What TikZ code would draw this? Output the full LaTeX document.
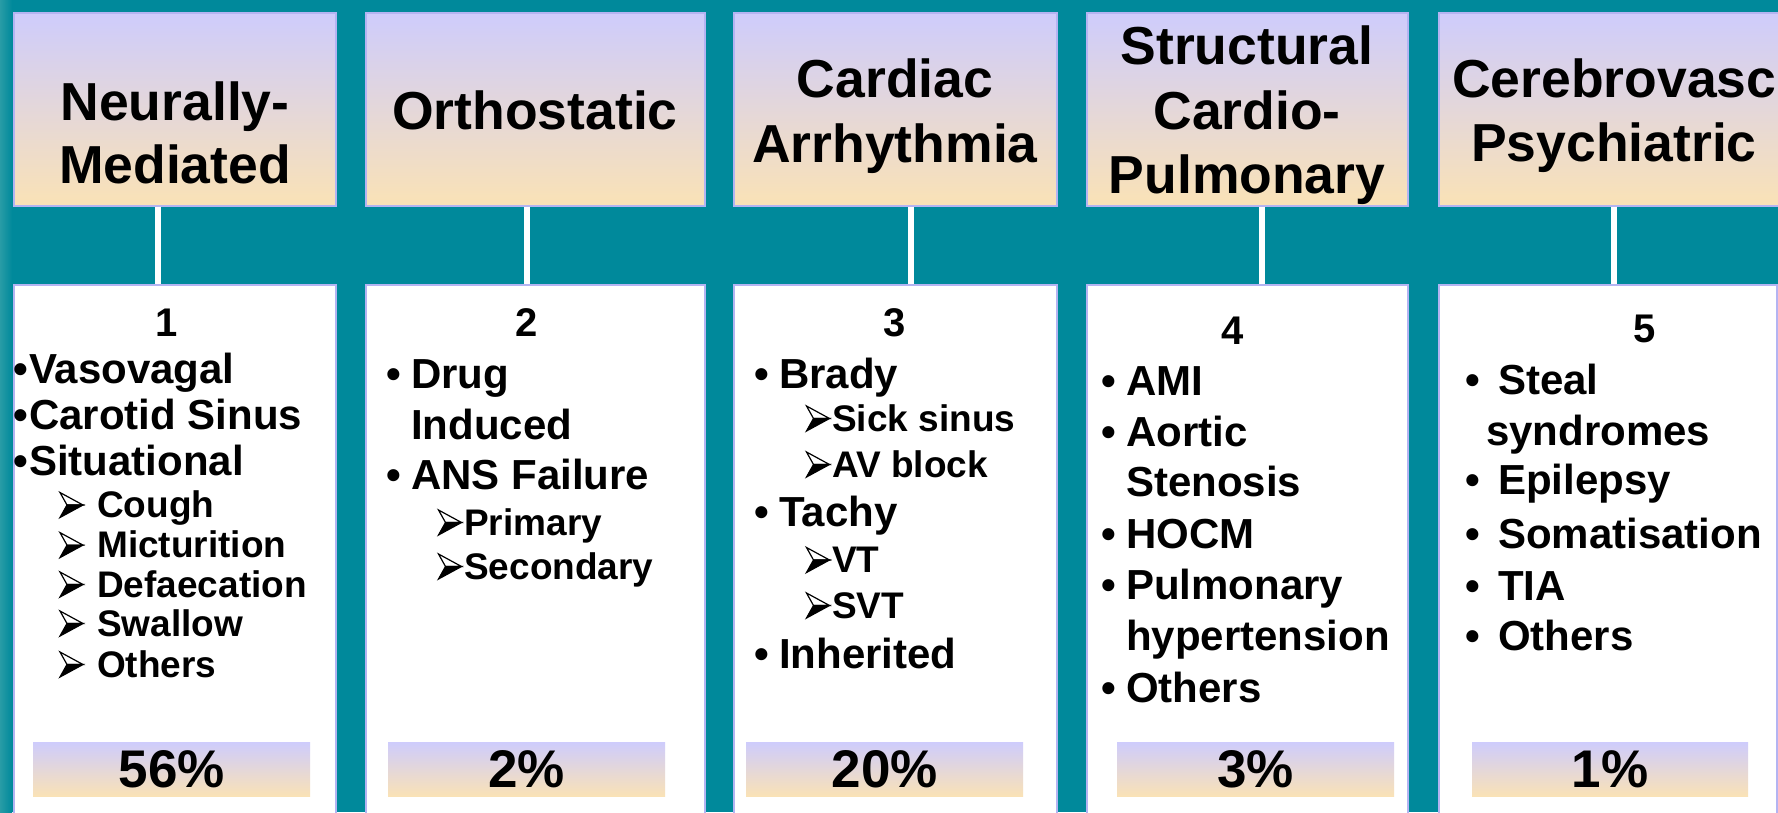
\documentclass[tikz,border=0pt]{standalone}
\usepackage{fontspec}
\setmainfont{Liberation Sans}
\definecolor{teal1}{RGB}{0,137,155}
\definecolor{tealL}{RGB}{40,156,166}
\definecolor{lav}{RGB}{206,204,252}
\definecolor{peach}{RGB}{250,226,182}
\definecolor{bord}{RGB}{180,180,242}
\tikzset{
  hdr/.style={draw=bord, line width=1.5pt, top color=lav, bottom color=peach, anchor=north west, inner sep=0pt},
  content/.style={draw=bord, line width=1.5pt, fill=white, anchor=north west, inner sep=0pt},
  bar/.style={top color=lav, bottom color=peach, anchor=north west, inner sep=0pt, minimum height=54pt, font=\fontsize{53pt}{60pt}\selectfont\bfseries},
  conn/.style={white, line width=6pt},
  hdt/.style={anchor=base, inner sep=0pt, font=\fontsize{53.5pt}{64pt}\selectfont\bfseries},
  num/.style={anchor=base, inner sep=0pt, font=\fontsize{40pt}{44pt}\selectfont\bfseries},
  mtxt/.style={anchor=base west, inner sep=0pt, font=\fontsize{42pt}{46pt}\selectfont\bfseries},
  stxt/.style={anchor=base west, inner sep=0pt, font=\fontsize{37pt}{40pt}\selectfont\bfseries},
  bul/.style={anchor=base, inner sep=0pt, font=\fontsize{42pt}{46pt}\selectfont\bfseries},
  ahead/.pic={
    \filldraw[fill=white, draw=black, line width=1.2pt, line join=miter] (-11.5,-25) -- (11.5,-12.5) -- (-4.5,-12.5) -- cycle;
    \filldraw[fill=black, draw=black, line width=1.2pt, line join=miter] (-4.5,-12.5) -- (11.5,-12.5) -- (-11.5,0) -- cycle;
  },
}
\newcommand{\bitem}[5]{\node[bul] (#1b) at (#2,#4) {•}; \node[mtxt] (#1) at (#3,#4) {#5};}
\newcommand{\aitem}[5]{\pic (#1b) at (#2,#4) {ahead}; \node[stxt] (#1) at (#3,#4) {#5};}
\newcommand{\pitem}[4]{\node[mtxt] (#1) at (#2,#3) {#4};}
\begin{document}
\begin{tikzpicture}[x=1pt, y=-1pt]
\useasboundingbox (0,0) rectangle (1778,812);
\clip (0,0) rectangle (1778,812);
\fill[teal1] (0,0) rectangle (1778,812);
\fill[left color=tealL, right color=teal1] (0,0) rectangle (12,812);
% header boxes
\node[hdr, minimum width=322pt, minimum height=193pt] (h1) at (13,12) {};
\node[hdr, minimum width=339pt, minimum height=193pt] (h2) at (365,12) {};
\node[hdr, minimum width=323pt, minimum height=193pt] (h3) at (733,12) {};
\node[hdr, minimum width=321pt, minimum height=193pt] (h4) at (1086,12) {};
\node[hdr, minimum width=372pt, minimum height=193pt] (h5) at (1438,12) {};
% content boxes
\node[content, minimum width=322pt, minimum height=580pt] (c1) at (13,284) {};
\node[content, minimum width=339pt, minimum height=580pt] (c2) at (365,284) {};
\node[content, minimum width=323pt, minimum height=580pt] (c3) at (733,284) {};
\node[content, minimum width=321pt, minimum height=580pt] (c4) at (1086,284) {};
\node[content, minimum width=338pt, minimum height=580pt] (c5) at (1438,284) {};
% connectors
\coordinate (k1) at (158,0);
\coordinate (k2) at (526.5,0);
\coordinate (k3) at (911,0);
\coordinate (k4) at (1262,0);
\coordinate (k5) at (1614,0);
\draw[conn] (h1.south -| k1) -- (c1.north -| k1);
\draw[conn] (h2.south -| k2) -- (c2.north -| k2);
\draw[conn] (h3.south -| k3) -- (c3.north -| k3);
\draw[conn] (h4.south -| k4) -- (c4.north -| k4);
\draw[conn] (h5.south -| k5) -- (c5.north -| k5);
% header texts
\node[hdt] (t1a) at (175,120) {Neurally-};
\node[hdt] (t1b) at (175,183) {Mediated};
\node[hdt] (t2a) at (535,129) {Orthostatic};
\node[hdt] (t3a) at (895,97) {Cardiac};
\node[hdt] (t3b) at (895,162) {Arrhythmia};
\node[hdt] (t4a) at (1247,64) {Structural};
\node[hdt] (t4b) at (1247,129) {Cardio-};
\node[hdt] (t4c) at (1247,193) {Pulmonary};
\node[hdt, anchor=base west] (t5a) at (1452,97) {Cerebrovasc};
\node[hdt] (t5b) at (1614,161) {Psychiatric};
% numbers
\node[num] (n1) at (167,336) {1};
\node[num] (n2) at (527,336) {2};
\node[num] (n3) at (895,336) {3};
\node[num] (n4) at (1233,344) {4};
\node[num] (n5) at (1645,342) {5};
% box 1
\bitem{a1}{21}{29}{383.5}{Vasovagal}
\bitem{a2}{21}{29}{429}{Carotid Sinus}
\bitem{a3}{21}{29}{475}{Situational}
\aitem{a4}{71.5}{97}{517.5}{Cough}
\aitem{a5}{71.5}{97}{557.6}{Micturition}
\aitem{a6}{71.5}{97}{597}{Defaecation}
\aitem{a7}{71.5}{97}{636}{Swallow}
\aitem{a8}{71.5}{97}{677}{Others}
% box 2
\bitem{b1}{393.5}{411}{388}{Drug}
\pitem{b2}{411}{439}{Induced}
\bitem{b3}{393.5}{411}{489}{ANS Failure}
\aitem{b4}{450}{464}{535}{Primary}
\aitem{b5}{450}{464}{579}{Secondary}
% box 3
\bitem{d1}{761.5}{779}{388}{Brady}
\aitem{d2}{818}{832}{431}{Sick sinus}
\aitem{d3}{818}{832}{477}{AV block}
\bitem{d4}{761.5}{779}{526}{Tachy}
\aitem{d5}{818}{832}{572.5}{VT}
\aitem{d6}{818}{832}{618}{SVT}
\bitem{d7}{761.5}{779}{668}{Inherited}
% box 4
\bitem{e1}{1109}{1126}{395}{AMI}
\bitem{e2}{1109}{1126}{446}{Aortic}
\pitem{e3}{1126}{496.5}{Stenosis}
\bitem{e4}{1109}{1126}{548}{HOCM}
\bitem{e5}{1109}{1126}{599}{Pulmonary}
\pitem{e6}{1126}{650}{hypertension}
\bitem{e7}{1109}{1126}{702}{Others}
% box 5
\bitem{f1}{1472.5}{1498}{394}{Steal}
\pitem{f2}{1486}{445}{syndromes}
\bitem{f3}{1472.5}{1498}{494.6}{Epilepsy}
\bitem{f4}{1472.5}{1498}{548}{Somatisation}
\bitem{f5}{1472.5}{1498}{600.7}{TIA}
\bitem{f6}{1472.5}{1498}{650}{Others}
% percentage bars
\node[bar, minimum width=277pt] (p1) at (33,742) {56\%};
\node[bar, minimum width=277pt] (p2) at (388,742) {2\%};
\node[bar, minimum width=277pt] (p3) at (746,742) {20\%};
\node[bar, minimum width=277pt] (p4) at (1117,742) {3\%};
\node[bar, minimum width=276pt] (p5) at (1472,742) {1\%};
\end{tikzpicture}
\end{document}
